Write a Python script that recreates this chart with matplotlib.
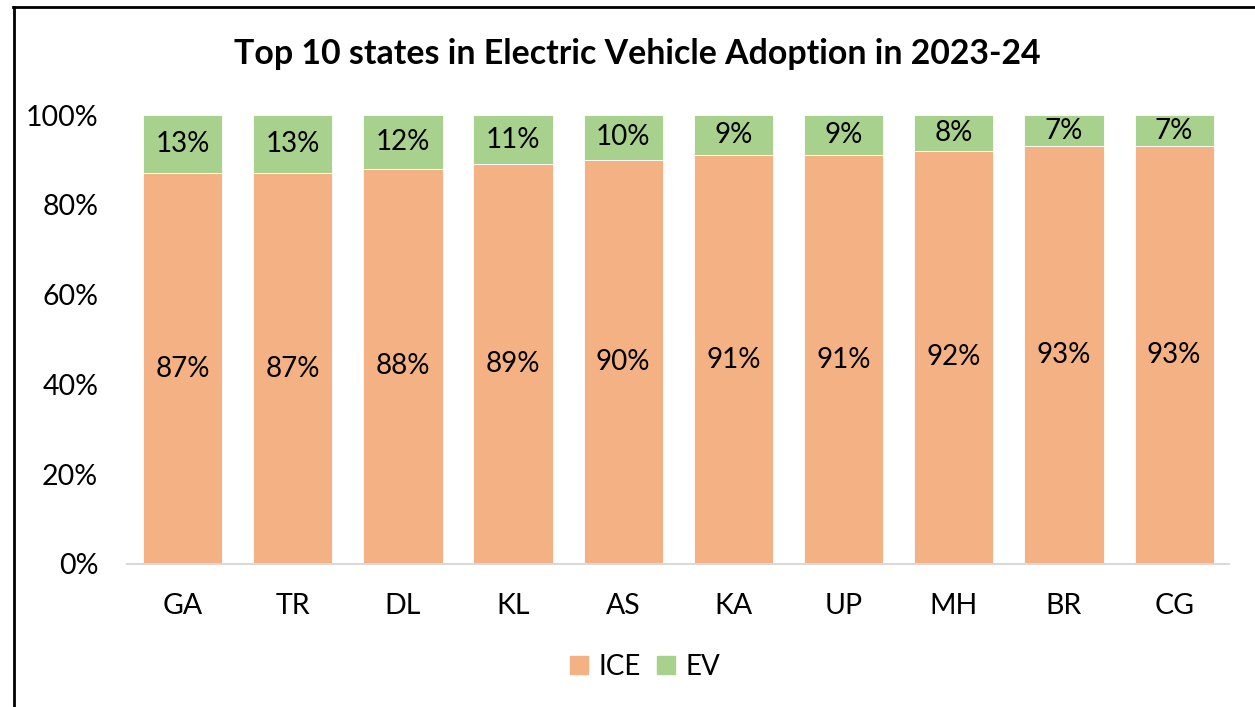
import matplotlib.pyplot as plt
from matplotlib.lines import Line2D

plt.rcParams['font.family'] = ['Lato', 'DejaVu Sans']

# share of new registrations, 2023-24
states = ['GA', 'TR', 'DL', 'KL', 'AS', 'KA', 'UP', 'MH', 'BR', 'CG']
ice_share = [87, 87, 88, 89, 90, 91, 91, 92, 93, 93]
ev_share = [13, 13, 12, 11, 10, 9, 9, 8, 7, 7]

ICE_COLOR = '#F4B183'
EV_COLOR = '#A9D18E'

fig = plt.figure(figsize=(12.55, 7.07), dpi=100)
ax = fig.add_axes([0.1015, 0.2023, 0.878, 0.635])

x = range(len(states))
ice_bars = ax.bar(x, ice_share, width=0.72, color=ICE_COLOR, edgecolor='white',
                  linewidth=0.6, label='ICE')
ev_bars = ax.bar(x, ev_share, width=0.72, bottom=ice_share, color=EV_COLOR,
                 edgecolor='white', linewidth=0.6, label='EV')

ax.bar_label(ice_bars, labels=[f'{v}%' for v in ice_share], label_type='center',
             fontsize=20)
ax.bar_label(ev_bars, labels=[f'{v}%' for v in ev_share], label_type='center',
             fontsize=20)

ax.set_xlim(-0.5, len(states) - 0.5)
ax.set_ylim(0, 100)
ax.set_yticks(range(0, 101, 20))
ax.set_yticklabels([f'{t}%' for t in range(0, 101, 20)])
ax.set_xticks(list(x))
ax.set_xticklabels(states)
ax.tick_params(axis='both', length=0, labelsize=20.5)
ax.tick_params(axis='x', pad=21)
ax.tick_params(axis='y', pad=21)

for side in ['top', 'right', 'left']:
    ax.spines[side].set_visible(False)
ax.spines['bottom'].set_color('#D9D9D9')
ax.spines['bottom'].set_linewidth(1.5)

fig.text(0.5075, 0.924, 'Top 10 states in Electric Vehicle Adoption in 2023-24',
         ha='center', va='center', fontsize=24.4, fontweight='bold')

handles = [Line2D([], [], marker='s', linestyle='', markersize=13,
                  markerfacecolor=ICE_COLOR, markeredgecolor=ICE_COLOR),
           Line2D([], [], marker='s', linestyle='', markersize=13,
                  markerfacecolor=EV_COLOR, markeredgecolor=EV_COLOR)]
fig.legend(handles, ['ICE', 'EV'], loc='center', bbox_to_anchor=(0.512, 0.057),
           ncol=2, frameon=False, fontsize=20, handletextpad=0.2,
           columnspacing=0.4, handlelength=1.0)

# chart border (left and top edges only)
fig.add_artist(Line2D([0.0115, 0.0115], [0, 0.990], transform=fig.transFigure,
                      color='black', linewidth=2))
fig.add_artist(Line2D([0.0107, 1.0], [0.990, 0.990], transform=fig.transFigure,
                      color='black', linewidth=2))

fig.savefig('out.png', dpi=100)
